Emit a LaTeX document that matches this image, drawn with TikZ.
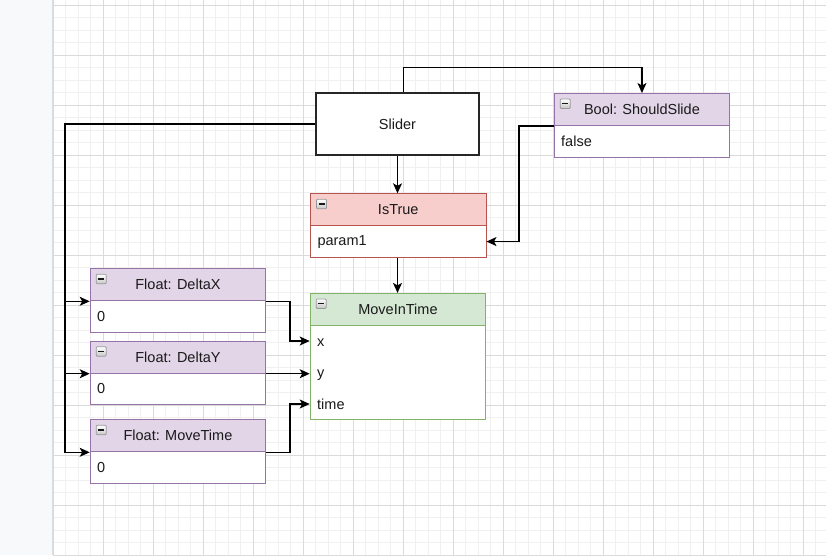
\documentclass[tikz,border=0pt]{standalone}
\usepackage{fontspec}
\setmainfont{Liberation Sans}
\usetikzlibrary{arrows.meta}
\definecolor{purf}{HTML}{E1D5E7}
\definecolor{purd}{HTML}{9673A6}
\definecolor{redf}{HTML}{F8CECC}
\definecolor{redd}{HTML}{B85450}
\definecolor{grnf}{HTML}{D5E8D4}
\definecolor{grnd}{HTML}{82B366}
\definecolor{gmin}{HTML}{F0F0F0}
\definecolor{gmaj}{HTML}{DADADA}
\definecolor{strip}{HTML}{F8F9FA}
\definecolor{stripb}{HTML}{DADCE0}
\definecolor{txt}{HTML}{1A1A1A}
\newcommand\hicon[1]{%
  \draw[draw=gray!80, rounded corners=1pt, top color=white, bottom color=gray!45, line width=0.8pt]
    ([shift={(6.5pt,-6pt)}]#1.north west) rectangle ([shift={(16.5pt,-15.5pt)}]#1.north west);
  \draw[line width=1.4pt, draw=gray!20!black] ([shift={(8.5pt,-10.75pt)}]#1.north west) -- ([shift={(14.5pt,-10.75pt)}]#1.north west);}
\tikzset{
  every node/.style={font=\fontsize{14.5pt}{17pt}\selectfont, text=txt},
  hdr/.style={draw=#1, line width=1pt, minimum width=175.5pt, minimum height=32pt, inner sep=0pt, anchor=north west},
  bodybox/.style={draw=#1, fill=white, line width=1pt, minimum width=175.5pt, minimum height=31.5pt,
    inner xsep=7pt, inner ysep=0pt, text width=161.5pt, align=left, anchor=north west},
  conn/.style={draw=black, line width=1.3pt, -{Stealth[length=10pt,width=9pt,inset=2.5pt]}},
  rowlbl/.style={anchor=base west, inner sep=0pt},
}
\begin{document}
\begin{tikzpicture}[x=1pt,y=-1pt]
\useasboundingbox (0,0) rectangle (826,555);
\fill[white] (0,0) rectangle (826,555);
% grid
\foreach \i in {0,...,62} { \draw[gmin, line width=0.8pt] ({53.3+12.5*\i},0) -- ({53.3+12.5*\i},555); }
\foreach \j in {0,...,44} { \draw[gmin, line width=0.8pt] (53,{5.3+12.5*\j}) -- (826,{5.3+12.5*\j}); }
\foreach \i in {0,...,15} { \draw[gmaj, line width=0.9pt] ({53.3+50*\i},0) -- ({53.3+50*\i},555); }
\foreach \j in {0,...,11} { \draw[gmaj, line width=0.9pt] (53,{5.3+50*\j}) -- (826,{5.3+50*\j}); }
% left strip
\fill[strip] (0,0) rectangle (52,555);
\draw[stripb, line width=1.5pt] (52.5,0) -- (52.5,555);

% nodes
\node[draw=black!85, line width=1.1pt, fill=white, minimum width=163pt, minimum height=62pt, inner sep=0pt] (slider) at (397.5,124) {Slider};

\node[hdr=purd, fill=purf] (boolh) at (553.7,93) {Bool: ShouldSlide};
\node[bodybox=purd] (boolb) at (553.7,125) {false};

\node[hdr=redd, fill=redf] (ish) at (310,193.3) {IsTrue};
\node[bodybox=redd] (isb) at (310,225.3) {param1};

\node[hdr=grnd, fill=grnf] (mith) at (309.7,292.9) {MoveInTime};
\node[bodybox=grnd, minimum height=94pt] (mitb) at (309.7,324.9) {};
\node[rowlbl] (mx) at (317,346.5) {x};
\node[rowlbl] (my) at (317,377.5) {y};
\node[rowlbl] (mt) at (317,409) {time};
\coordinate (rx) at (309.7,341);
\coordinate (rt) at (309.7,404);

\node[hdr=purd, fill=purf] (dxh) at (89.7,268.3) {Float: DeltaX};
\node[bodybox=purd] (dxb) at (89.7,300.3) {0};

\node[hdr=purd, fill=purf] (dyh) at (89.7,340.7) {Float: DeltaY};
\node[bodybox=purd] (dyb) at (89.7,372.7) {0};

\node[hdr=purd, fill=purf] (mth) at (89.7,419.3) {Float: MoveTime};
\node[bodybox=purd] (mtb) at (89.7,451.3) {0};

\hicon{boolh}
\hicon{ish}
\hicon{mith}
\hicon{dxh}
\hicon{dyh}
\hicon{mth}

% helper coordinates
\coordinate (k1) at (403.7,67.3);
\coordinate (k2) at (519,200);
\coordinate (k3) at (65,200);
\coordinate (k4) at (290,300);

% connectors
\draw[conn] (slider.north -| k1) -- (k1) -| (boolh.north);
\draw[conn] (slider.south) -- (slider.south |- ish.north);
\draw[conn] (boolh.south west) -- (boolh.south west -| k2) |- (isb.east);
\draw[conn] (isb.south -| slider.south) -- (slider.south |- mith.north);

\draw[conn] (slider.west) -- (slider.west -| k3) |- (mth.south west);
\draw[conn] (k3 |- dxh.south west) -- (dxh.south west);
\draw[conn] (k3 |- dyh.south west) -- (dyh.south west);

\draw[conn] (dxh.south east) -- (dxh.south east -| k4) |- (rx);
\draw[conn] (dyh.south east) -- (dyh.south east -| mitb.west);
\draw[conn] (mth.south east) -- (mth.south east -| k4) |- (rt);
\end{tikzpicture}
\end{document}
